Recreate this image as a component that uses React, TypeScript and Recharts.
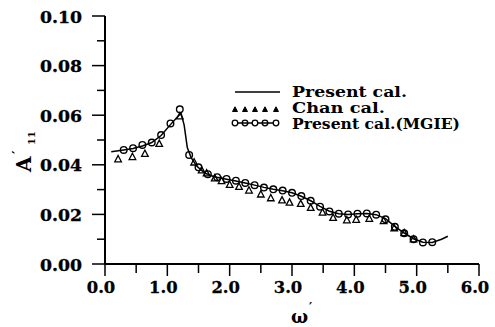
import React from 'react';
import { LineChart, Line, XAxis, YAxis } from 'recharts';

const presentOmega = [0.1, 0.3, 0.45, 0.6, 0.75, 0.9, 1.05, 1.15, 1.22, 1.27, 1.32, 1.38, 1.47, 1.6, 1.75, 1.95, 2.1, 2.25, 2.4, 2.55, 2.7, 2.85, 3.0, 3.15, 3.3, 3.45, 3.6, 3.75, 3.9, 4.05, 4.2, 4.35, 4.5, 4.65, 4.8, 4.95, 5.1, 5.25, 5.4, 5.5];
const presentA = [0.0453, 0.046, 0.0466, 0.0476, 0.049, 0.0518, 0.0562, 0.059, 0.0608, 0.056, 0.047, 0.043, 0.0395, 0.0367, 0.0352, 0.0342, 0.0335, 0.0327, 0.0318, 0.0309, 0.0301, 0.0295, 0.0287, 0.0273, 0.0255, 0.0232, 0.0213, 0.0203, 0.02, 0.0203, 0.0204, 0.0199, 0.0183, 0.0152, 0.0125, 0.0102, 0.0088, 0.0087, 0.01, 0.0112];

const chanOmega = [0.21, 0.44, 0.64, 0.87, 1.2, 1.43, 1.55, 1.63, 1.76, 1.87, 2.0, 2.15, 2.31, 2.5, 2.66, 2.84, 2.96, 3.14, 3.3, 3.49, 3.66, 3.88, 4.03, 4.24, 4.47, 4.64, 4.8, 4.95];
const chanA = [0.0423, 0.0432, 0.0445, 0.0485, 0.0596, 0.041, 0.0378, 0.0366, 0.0346, 0.0335, 0.032, 0.0312, 0.0297, 0.0281, 0.0266, 0.0257, 0.0248, 0.0243, 0.0227, 0.0208, 0.0187, 0.0177, 0.0179, 0.0183, 0.0174, 0.0145, 0.0125, 0.01];

const mgieOmega = [0.3, 0.45, 0.6, 0.75, 0.9, 1.05, 1.2, 1.35, 1.5, 1.65, 1.8, 1.95, 2.1, 2.25, 2.4, 2.55, 2.7, 2.85, 3.0, 3.15, 3.3, 3.45, 3.6, 3.75, 3.9, 4.05, 4.2, 4.35, 4.5, 4.65, 4.8, 4.95, 5.1, 5.25];
const mgieA = [0.046, 0.0467, 0.048, 0.049, 0.052, 0.0567, 0.0624, 0.044, 0.039, 0.0362, 0.035, 0.0343, 0.0336, 0.0327, 0.0318, 0.0308, 0.0301, 0.0296, 0.0287, 0.0274, 0.0255, 0.0231, 0.0212, 0.0203, 0.02, 0.0203, 0.0204, 0.0199, 0.018, 0.015, 0.0124, 0.01, 0.0087, 0.0088];

const xMajorTicks = [0, 1, 2, 3, 4, 5, 6];
const xMinorTicks = [0.5, 1.5, 2.5, 3.5, 4.5, 5.5];
const yMajorTicks = [0, 0.02, 0.04, 0.06, 0.08, 0.1];
const yMinorTicks = [0.01, 0.03, 0.05, 0.07, 0.09];

const legendLabels = ['Present cal.', 'Chan cal.', 'Present cal.(MGIE)'];

const presentData = presentOmega.map((x, i) => ({ x, y: presentA[i] }));
const chanData = chanOmega.map((x, i) => ({ x, y: chanA[i] }));
const mgieData = mgieOmega.map((x, i) => ({ x, y: mgieA[i] }));

const FONT = 'DejaVu Serif';

const YTick = (props: any) => {
  const { x, y, payload } = props;
  const major = yMajorTicks.includes(payload.value);
  return (
    <g>
      <line x1={x - (major ? 13 : 8)} x2={x} y1={y} y2={y} stroke="#000" strokeWidth={1.5} />
      {major && (
        <text x={x - 23} y={y + 6.5} textAnchor="end" fontFamily={FONT} fontWeight="bold" fontSize={16} fill="#000" stroke="#000" strokeWidth={0.3} textLength={42} lengthAdjust="spacingAndGlyphs">
          {payload.value.toFixed(2)}
        </text>
      )}
    </g>
  );
};

const XTick = (props: any) => {
  const { x, y, payload } = props;
  const major = xMajorTicks.includes(payload.value);
  return (
    <g>
      <line x1={x} x2={x} y1={y} y2={y + (major ? 12 : 9)} stroke="#000" strokeWidth={1.5} />
      {major && (
        <text x={x - 4} y={y + 29} textAnchor="middle" fontFamily={FONT} fontWeight="bold" fontSize={17} fill="#000" stroke="#000" strokeWidth={0.3} textLength={28.5} lengthAdjust="spacingAndGlyphs">
          {payload.value.toFixed(1)}
        </text>
      )}
    </g>
  );
};

const triPath = (cx: number, cy: number, s: number) =>
  `M${cx},${cy - s * 0.6}L${cx + s * 0.55},${cy + s * 0.45}L${cx - s * 0.55},${cy + s * 0.45}Z`;

const TriDot = (props: any) => {
  const { cx, cy, index } = props;
  if (cx == null || cy == null) return <g key={`t${index}`} />;
  return <path key={`t${index}`} d={triPath(cx, cy, 6)} fill="none" stroke="#000" strokeWidth={1.3} />;
};

const CircDot = (props: any) => {
  const { cx, cy, index } = props;
  if (cx == null || cy == null) return <g key={`c${index}`} />;
  return <circle key={`c${index}`} cx={cx} cy={cy} r={3.3} fill="none" stroke="#000" strokeWidth={1.4} />;
};

const legendX = [235, 245, 255, 265, 276];

const Overlay = () => (
  <g>
    {/* Legend */}
    <line x1={235} x2={280} y1={92} y2={92} stroke="#000" strokeWidth={1.5} />
    <text x={292} y={97} fontFamily={FONT} fontWeight="bold" fontSize={14} fill="#000" textLength={115} lengthAdjust="spacingAndGlyphs">{legendLabels[0]}</text>
    {legendX.map((x, i) => (
      <path key={`lt${i}`} d={triPath(x, 109.5, 4.5)} fill="#000" stroke="#000" strokeWidth={1} />
    ))}
    <text x={292} y={112.7} fontFamily={FONT} fontWeight="bold" fontSize={14} fill="#000" textLength={93} lengthAdjust="spacingAndGlyphs">{legendLabels[1]}</text>
    <line x1={235} x2={276} y1={123} y2={123} stroke="#000" strokeWidth={1.3} />
    {legendX.map((x, i) => (
      <circle key={`lc${i}`} cx={x} cy={123} r={2.8} fill={i % 2 === 0 ? '#fff' : 'none'} stroke="#000" strokeWidth={1.3} />
    ))}
    <text x={292} y={128.5} fontFamily={FONT} fontWeight="bold" fontSize={14} fill="#000" textLength={168} lengthAdjust="spacingAndGlyphs">{legendLabels[2]}</text>
    {/* Y axis title */}
    <text x={31} y={172} transform="rotate(-90 31 172)" fontFamily={FONT} fontWeight="bold" fontSize={20} fill="#000">A</text>
    <text x={23} y={154} transform="rotate(-90 23 154)" fontFamily={FONT} fontWeight="bold" fontSize={14} fill="#000">′</text>
    <text x={35} y={145} transform="rotate(-90 35 145)" fontFamily={FONT} fontWeight="bold" fontSize={10} fill="#000">11</text>
    {/* X axis title */}
    <text x={291} y={323} fontFamily={FONT} fontWeight="bold" fontSize={18} fill="#000">ω</text>
    <text x={309} y={312} fontFamily={FONT} fontWeight="bold" fontSize={12} fill="#000">′</text>
  </g>
);

export default function App() {
  return (
    <div style={{ position: 'absolute', left: 0, top: 0, background: '#fff' }}>
      <LineChart width={495} height={327} margin={{ top: 16, right: 16, bottom: 33, left: 0 }}>
        <XAxis
          type="number"
          dataKey="x"
          domain={[0, 6]}
          ticks={[...xMajorTicks, ...xMinorTicks].sort((a, b) => a - b)}
          interval={0}
          height={30}
          tickSize={0}
          tickMargin={0}
          tickLine={false}
          tick={<XTick />}
          axisLine={{ stroke: '#000', strokeWidth: 2 }}
          allowDataOverflow
        />
        <YAxis
          type="number"
          dataKey="y"
          domain={[0, 0.1]}
          ticks={[...yMajorTicks, ...yMinorTicks].sort((a, b) => a - b)}
          interval={0}
          width={105}
          tickSize={0}
          tickMargin={0}
          tickLine={false}
          tick={<YTick />}
          axisLine={{ stroke: '#000', strokeWidth: 2 }}
          allowDataOverflow
        />
        <Line data={chanData} dataKey="y" stroke="none" dot={TriDot} isAnimationActive={false} activeDot={false} />
        <Line data={presentData} dataKey="y" stroke="#000" strokeWidth={1.5} dot={false} isAnimationActive={false} activeDot={false} />
        <Line data={mgieData} dataKey="y" stroke="none" dot={CircDot} isAnimationActive={false} activeDot={false} />
        <Overlay />
      </LineChart>
    </div>
  );
}
